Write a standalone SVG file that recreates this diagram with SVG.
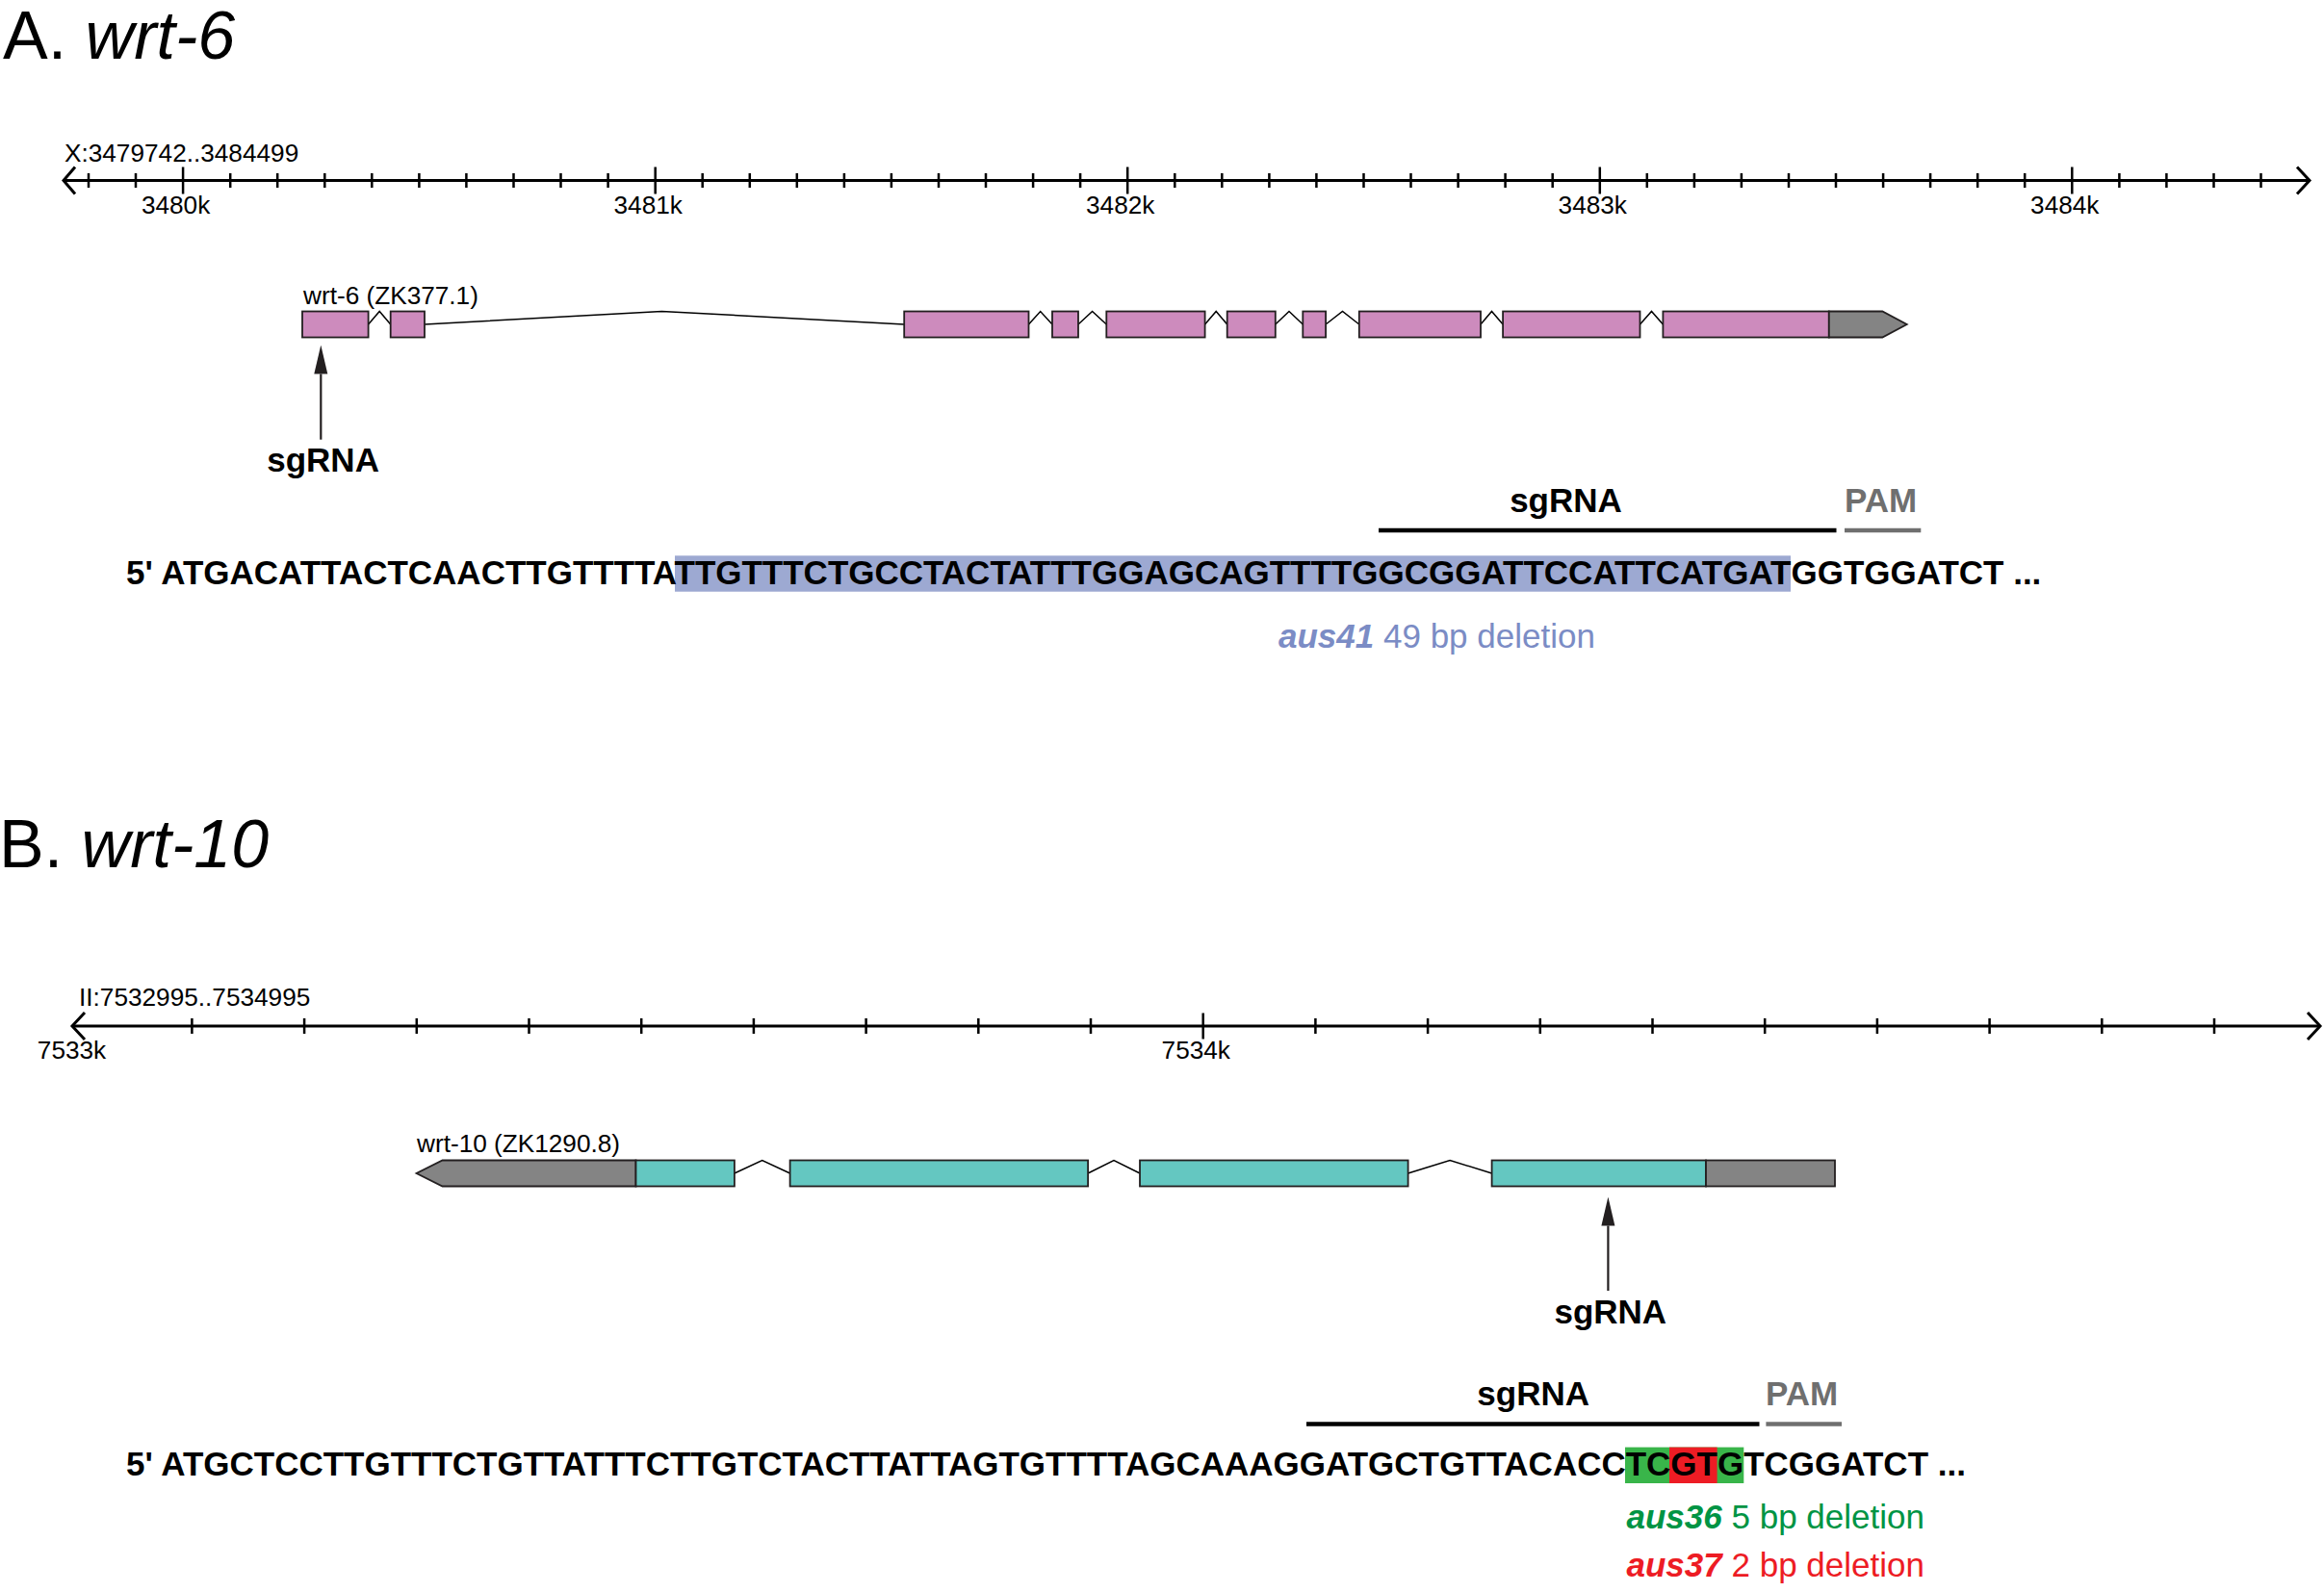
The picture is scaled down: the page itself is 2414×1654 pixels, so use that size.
<svg xmlns="http://www.w3.org/2000/svg" width="2414" height="1654" viewBox="0 0 2414 1654">
<style>
text{font-family:"Liberation Sans",Arial,Helvetica,sans-serif;fill:#000}
.title{font-size:70px}
.lbl{font-size:26.2px}
.bold{font-size:35px;font-weight:bold}
.ax{stroke:#000;stroke-width:3;fill:none}
.chev{stroke:#000;stroke-width:3;fill:none;stroke-linejoin:miter}
.tk{stroke:#000;stroke-width:2.5;fill:none}
.ex6{fill:#cd8bbd;stroke:#231f20;stroke-width:1.8}
.ex10{fill:#64c7c1;stroke:#231f20;stroke-width:1.8}
.utr{fill:#848484;stroke:#231f20;stroke-width:1.8}
.intr{fill:none;stroke:#000;stroke-width:1.5}
.arrow{stroke:#231f20;stroke-width:2.2;fill:none}
.bar{stroke:#000;stroke-width:4.5}
.pambar{stroke:#6f6f6f;stroke-width:4.5}
.pam{fill:#6f6f6f}
.it{font-style:italic;font-weight:bold}
.allele{font-size:35px;font-weight:normal}
</style>
<defs>
<marker id="ah" markerUnits="userSpaceOnUse" viewBox="0 -8 30 16" markerWidth="30" markerHeight="16" refX="0" refY="0" orient="auto">
<path d="M0,-7 L30,0 L0,7 z" fill="#231f20"/>
</marker>
</defs>

<!-- Section A -->
<g id="titleA"><text class="title" x="3" y="61">A. <tspan font-style="italic">wrt-6</tspan></text></g>

<g id="axisA">
<text class="lbl" x="67" y="168">X:3479742..3484499</text>
<line class="ax" x1="66" y1="187.5" x2="2399" y2="187.5"/>
<path class="chev" d="M78,173.5 L66,187.5 L78,201.5"/>
<path class="chev" d="M2386,173.5 L2399,187.5 L2386,201.5"/>
<path class="tk" d="M92,180V195M141,180V195M239.2,180V195M288.2,180V195M337.3,180V195M386.3,180V195M435.4,180V195M484.4,180V195M533.5,180V195M582.5,180V195M631.6,180V195M729.7,180V195M778.8,180V195M827.8,180V195M876.9,180V195M925.9,180V195M975,180V195M1024,180V195M1073.1,180V195M1122.1,180V195M1220.3,180V195M1269.3,180V195M1318.4,180V195M1367.4,180V195M1416.5,180V195M1465.5,180V195M1514.6,180V195M1563.6,180V195M1612.7,180V195M1710.8,180V195M1759.9,180V195M1808.9,180V195M1858,180V195M1907,180V195M1956.1,180V195M2005.1,180V195M2054.2,180V195M2103.2,180V195M2201.4,180V195M2250.4,180V195M2299.5,180V195M2348.5,180V195"/>
<path class="tk" d="M190.1,173.5V201.5M680.7,173.5V201.5M1171.2,173.5V201.5M1661.8,173.5V201.5M2152.3,173.5V201.5"/>
<text class="lbl" x="182.6" y="221.5" text-anchor="middle">3480k</text>
<text class="lbl" x="673.2" y="221.5" text-anchor="middle">3481k</text>
<text class="lbl" x="1163.7" y="221.5" text-anchor="middle">3482k</text>
<text class="lbl" x="1654.3" y="221.5" text-anchor="middle">3483k</text>
<text class="lbl" x="2144.8" y="221.5" text-anchor="middle">3484k</text>
</g>

<g id="geneA">
<text class="lbl" x="315" y="316">wrt-6 (ZK377.1)</text>
<path class="intr" d="M382.6,337L394.2,323.5L405.7,337M441,337L687.4,323.5L939.2,337M1068.5,337L1080.7,323.5L1093,337M1120,337L1134.6,323.5L1149.3,337M1251.6,337L1263.2,323.5L1274.7,337M1324.8,337L1339,323.5L1353.3,337M1377.1,337L1394.5,323.5L1411.8,337M1538,337L1549.5,323.5L1561.1,337M1703.5,337L1715.5,323.5L1727.4,337"/>
<rect class="ex6" x="314" y="323.5" width="68.6" height="27"/>
<rect class="ex6" x="405.7" y="323.5" width="35.3" height="27"/>
<rect class="ex6" x="939.2" y="323.5" width="129.3" height="27"/>
<rect class="ex6" x="1093" y="323.5" width="27" height="27"/>
<rect class="ex6" x="1149.3" y="323.5" width="102.3" height="27"/>
<rect class="ex6" x="1274.7" y="323.5" width="50.1" height="27"/>
<rect class="ex6" x="1353.3" y="323.5" width="23.8" height="27"/>
<rect class="ex6" x="1411.8" y="323.5" width="126.2" height="27"/>
<rect class="ex6" x="1561.1" y="323.5" width="142.4" height="27"/>
<rect class="ex6" x="1727.4" y="323.5" width="172.4" height="27"/>
<path class="utr" d="M1899.8,323.5H1955.3L1980.7,337L1955.3,350.5H1899.8z"/>
</g>

<g id="sgrnaLabelA"><text class="bold" x="335.6" y="490" text-anchor="middle">sgRNA</text></g>

<g id="seqA">
<rect x="701" y="577.3" width="1159" height="37.4" fill="#9da9d2"/>
<text class="bold" x="131" y="606.7">5' ATGACATTACTCAACTTGTTTTATTGTTTCTGCCTACTATTTGGAGCAGTTTTGGCGGATTCCATTCATGATGGTGGATCT ...</text>
</g>

<g id="targetA">
<line class="bar" x1="1432" y1="551" x2="1907.5" y2="551"/>
<line class="pambar" x1="1916" y1="551" x2="1995.3" y2="551"/>
<text class="bold" x="1626.5" y="531.7" text-anchor="middle">sgRNA</text>
<text class="bold pam" x="1953.7" y="531.7" text-anchor="middle">PAM</text>
</g>

<g id="alleleA">
<text class="allele" x="1328" y="673" style="fill:#7b8cc5"><tspan class="it">aus41</tspan> 49 bp deletion</text>
</g>

<!-- Section B -->
<g id="titleB"><text class="title" x="-1" y="901">B. <tspan font-style="italic">wrt-10</tspan></text></g>

<g id="axisB">
<text class="lbl" x="82" y="1045">II:7532995..7534995</text>
<line class="ax" x1="75" y1="1066" x2="2410" y2="1066"/>
<path class="chev" d="M88,1052 L75,1066 L88,1080"/>
<path class="chev" d="M2397,1052 L2410,1066 L2397,1080"/>
<path class="tk" d="M199.4,1058V1074M316.1,1058V1074M432.8,1058V1074M549.5,1058V1074M666.2,1058V1074M782.9,1058V1074M899.6,1058V1074M1016.3,1058V1074M1133,1058V1074M1366.4,1058V1074M1483.1,1058V1074M1599.8,1058V1074M1716.5,1058V1074M1833.2,1058V1074M1949.9,1058V1074M2066.6,1058V1074M2183.3,1058V1074M2300,1058V1074"/>
<path class="tk" d="M1249.7,1052.5V1079.5"/>
<text class="lbl" x="74.5" y="1100" text-anchor="middle">7533k</text>
<text class="lbl" x="1242.3" y="1100" text-anchor="middle">7534k</text>
</g>

<g id="geneB">
<text class="lbl" x="433" y="1197">wrt-10 (ZK1290.8)</text>
<path class="intr" d="M762.9,1219L791.7,1205.5L820.6,1219M1130.1,1219L1157,1205.5L1184,1219M1462.6,1219L1506.1,1205.5L1549.6,1219"/>
<path class="utr" d="M660.5,1205.5H459.6L432.6,1219L459.6,1232.5H660.5z"/>
<rect class="ex10" x="660.5" y="1205.5" width="102.4" height="27"/>
<rect class="ex10" x="820.6" y="1205.5" width="309.5" height="27"/>
<rect class="ex10" x="1184" y="1205.5" width="278.6" height="27"/>
<rect class="ex10" x="1549.6" y="1205.5" width="222.4" height="27"/>
<rect class="utr" x="1772" y="1205.5" width="134" height="27"/>
</g>

<g id="sgrnaLabelB"><text class="bold" x="1672.8" y="1375" text-anchor="middle">sgRNA</text></g>

<g id="seqB">
<rect x="1688" y="1503.6" width="123.3" height="37.4" fill="#39b54a"/>
<rect x="1734" y="1503.6" width="49.6" height="37.4" fill="#ed1c24"/>
<text class="bold" x="131" y="1533.3">5' ATGCTCCTTGTTTCTGTTATTTCTTGTCTACTTATTAGTGTTTTAGCAAAGGATGCTGTTACACCTCGTGTCGGATCT ...</text>
</g>

<g id="targetB">
<line class="bar" x1="1357" y1="1479.5" x2="1827.5" y2="1479.5"/>
<line class="pambar" x1="1834.4" y1="1479.5" x2="1913" y2="1479.5"/>
<text class="bold" x="1592.7" y="1460" text-anchor="middle">sgRNA</text>
<text class="bold pam" x="1871.7" y="1460" text-anchor="middle">PAM</text>
</g>

<g id="allelesB">
<text class="allele" x="1689.5" y="1588.3" style="fill:#009444"><tspan class="it">aus36</tspan> 5 bp deletion</text>
<text class="allele" x="1689.5" y="1638.3" style="fill:#ed1c24"><tspan class="it">aus37</tspan> 2 bp deletion</text>
</g>

<g id="connectors">
<line class="arrow" x1="333.3" y1="456.7" x2="333.3" y2="388.5" marker-end="url(#ah)"/>
<line class="arrow" x1="1670.4" y1="1341" x2="1670.4" y2="1273.5" marker-end="url(#ah)"/>
</g>
</svg>
